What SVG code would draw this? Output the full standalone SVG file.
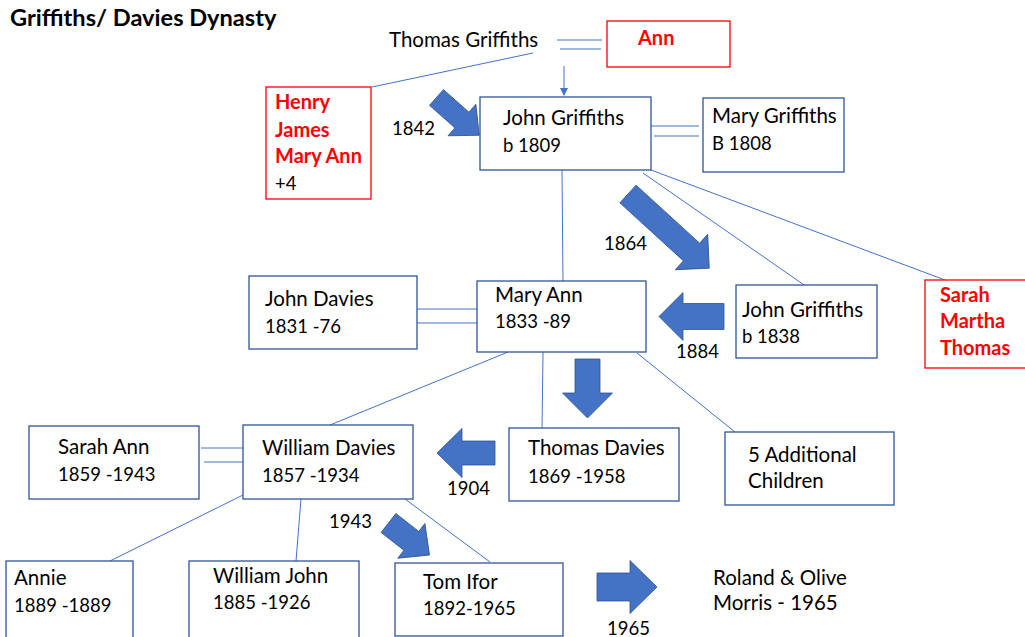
<svg xmlns="http://www.w3.org/2000/svg" width="1025" height="637" viewBox="0 0 1025 637">
<style>
text{font-family:Lato,"Liberation Sans",sans-serif;font-size:20.5px;fill:#000}
.n{font-size:18.5px}
.title{font-weight:bold;font-size:23.6px}
.red{fill:#ff0000;font-weight:bold;font-size:20px}
.box{fill:#fff;stroke:#2f5597;stroke-width:1.3}
.rbox{fill:#fff;stroke:#ff0000;stroke-width:1.3}
.ln{stroke:#4472c4;stroke-width:1;fill:none}
.ba{fill:#4472c4;stroke:#2f528f;stroke-width:0.8}
</style>
<defs>
<marker id="ah" markerWidth="8" markerHeight="8" refX="7" refY="4" orient="auto" markerUnits="userSpaceOnUse">
<path d="M0,0 L8,4 L0,8 Z" fill="#4472c4"/>
</marker>
</defs>
<rect width="1025" height="637" fill="#fff"/>
<text class="title" x="10" y="26">Griffiths/ Davies Dynasty</text>

<g id="connectors">
<line class="ln" x1="557" y1="40" x2="602" y2="40"/>
<line class="ln" x1="560" y1="49" x2="601" y2="49"/>
<line class="ln" x1="564" y1="66" x2="564" y2="95" marker-end="url(#ah)"/>
<line class="ln" x1="533" y1="53" x2="372" y2="87"/>
<line class="ln" x1="651" y1="126" x2="699" y2="126"/>
<line class="ln" x1="654" y1="136" x2="699" y2="136"/>
<line class="ln" x1="562" y1="170" x2="563" y2="283"/>
<line class="ln" x1="643" y1="173" x2="807" y2="287"/>
<line class="ln" x1="651" y1="170" x2="945" y2="280"/>
<line class="ln" x1="417" y1="309" x2="480" y2="309"/>
<line class="ln" x1="417" y1="323" x2="480" y2="323"/>
<line class="ln" x1="508" y1="352" x2="330" y2="425"/>
<line class="ln" x1="543" y1="352" x2="542" y2="430"/>
<line class="ln" x1="637" y1="353" x2="735" y2="432"/>
<line class="ln" x1="201" y1="448" x2="243" y2="448"/>
<line class="ln" x1="204" y1="462" x2="243" y2="462"/>
<line class="ln" x1="243" y1="495" x2="110" y2="561"/>
<line class="ln" x1="301" y1="499" x2="296" y2="561"/>
<line class="ln" x1="405" y1="499" x2="490" y2="562"/>
<path class="ba" transform="translate(436.5,97.5) rotate(41.5)" d="M0,-10.5 L34,-10.5 L34,-21 L57,0 L34,21 L34,10.5 L0,10.5 Z"/>
<path class="ba" transform="translate(628,194) rotate(42.4)" d="M0,-12 L86,-12 L86,-24 L110,0 L86,24 L86,12 L0,12 Z"/>
<path class="ba" transform="translate(587.5,359) rotate(90)" d="M0,-12.5 L34,-12.5 L34,-25 L59,0 L34,25 L34,12.5 L0,12.5 Z"/>
<path class="ba" transform="translate(724,316.5) rotate(180)" d="M0,-13 L41,-13 L41,-24 L65,0 L41,24 L41,13 L0,13 Z"/>
<path class="ba" transform="translate(495,453) rotate(180)" d="M0,-12 L33,-12 L33,-24.5 L58,0 L33,24.5 L33,12 L0,12 Z"/>
<path class="ba" transform="translate(388.5,523) rotate(38)" d="M0,-12 L29,-12 L29,-22 L52,0 L29,22 L29,12 L0,12 Z"/>
<path class="ba" transform="translate(597,587) rotate(0)" d="M0,-14 L33,-14 L33,-26.5 L60,0 L33,26.5 L33,14 L0,14 Z"/>
</g>

<g id="thomas-griffiths"><text x="389" y="47">Thomas Griffiths</text></g>
<g id="ann"><rect class="rbox" x="607" y="21" width="123" height="46"/><text class="red" x="638" y="45">Ann</text></g>
<g id="henry"><rect class="rbox" x="266" y="87" width="105" height="112"/>
<text class="red" x="275" y="109">Henry</text><text class="red" x="275" y="137">James</text><text class="red" x="275" y="163">Mary Ann</text><text class="n" x="275" y="190">+4</text></g>
<g id="label-1842"><text class="n" x="392" y="135">1842</text></g>
<g id="john-griffiths-1809"><rect class="box" x="480" y="97" width="171" height="73"/><text x="503" y="125">John Griffiths</text><text class="n" x="503" y="152">b 1809</text></g>
<g id="mary-griffiths"><rect class="box" x="703" y="98" width="141" height="74"/><text x="712" y="123">Mary Griffiths</text><text class="n" x="712" y="150">B 1808</text></g>
<g id="label-1864"><text class="n" x="604" y="250">1864</text></g>
<g id="john-griffiths-1838"><rect class="box" x="736" y="285" width="141" height="73"/><text x="742" y="317">John Griffiths</text><text class="n" x="742" y="343">b 1838</text></g>
<g id="label-1884"><text class="n" x="676" y="358">1884</text></g>
<g id="sarah-martha-thomas"><rect class="rbox" x="925" y="280" width="110" height="88"/>
<text class="red" x="940" y="302">Sarah</text><text class="red" x="940" y="328">Martha</text><text class="red" x="940" y="355">Thomas</text></g>
<g id="john-davies"><rect class="box" x="249" y="276" width="168" height="73"/><text x="265" y="306">John Davies</text><text class="n" x="265" y="333">1831 -76</text></g>
<g id="mary-ann"><rect class="box" x="477" y="281" width="169" height="71"/><text x="495" y="302">Mary Ann</text><text class="n" x="495" y="328">1833 -89</text></g>
<g id="sarah-ann"><rect class="box" x="29" y="426" width="170" height="73"/><text x="58" y="454">Sarah Ann</text><text class="n" x="58" y="481">1859 -1943</text></g>
<g id="william-davies"><rect class="box" x="243" y="425" width="170" height="74"/><text x="262" y="455">William Davies</text><text class="n" x="262" y="482">1857 -1934</text></g>
<g id="label-1904"><text class="n" x="447" y="495">1904</text></g>
<g id="thomas-davies"><rect class="box" x="509" y="428" width="170" height="73"/><text x="528" y="455">Thomas Davies</text><text class="n" x="528" y="483">1869 -1958</text></g>
<g id="five-additional"><rect class="box" x="725" y="432" width="169" height="73"/><text x="748" y="462">5 Additional</text><text x="748" y="488">Children</text></g>
<g id="label-1943"><text class="n" x="329" y="528">1943</text></g>
<g id="annie"><rect class="box" x="6" y="561" width="127" height="80"/><text x="14" y="585">Annie</text><text class="n" x="14" y="612">1889 -1889</text></g>
<g id="william-john"><rect class="box" x="189" y="561" width="170" height="80"/><text x="213" y="583">William John</text><text class="n" x="213" y="609">1885 -1926</text></g>
<g id="tom-ifor"><rect class="box" x="395" y="563" width="168" height="73"/><text x="423" y="589">Tom Ifor</text><text class="n" x="423" y="615">1892-1965</text></g>
<g id="label-1965"><text class="n" x="607" y="635">1965</text></g>
<g id="roland-olive"><text x="713" y="585">Roland &amp; Olive</text><text x="713" y="610">Morris - 1965</text></g>
</svg>
